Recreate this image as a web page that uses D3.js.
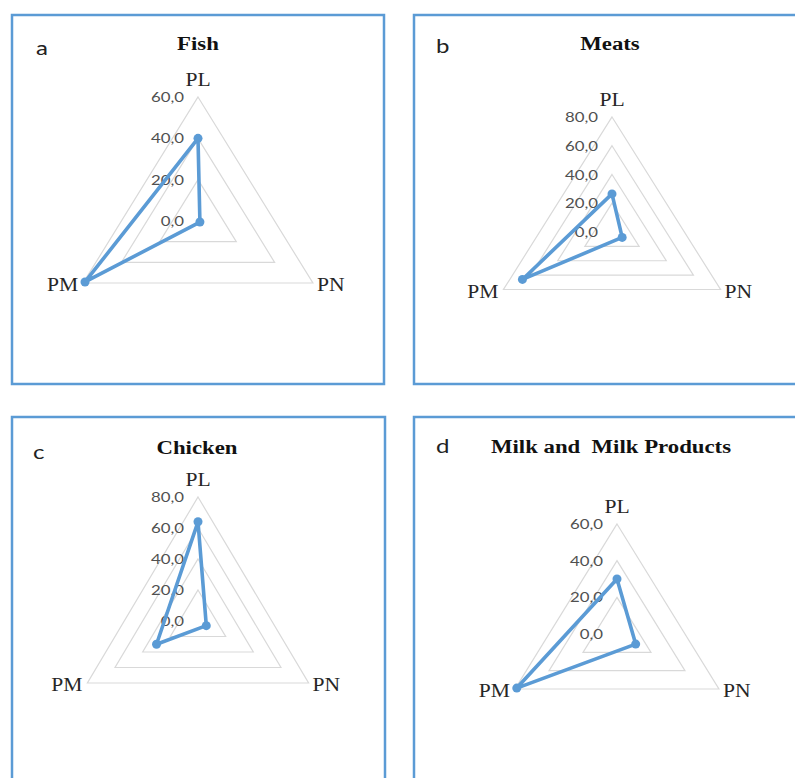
<!DOCTYPE html>
<meta charset="utf-8">
<style>
  body { margin: 0; background: #fff; }
  svg { display: block; }
  .frame { fill: none; stroke: #5b9bd5; stroke-width: 2.5; }
  .grid { fill: none; stroke: #d9d9d9; stroke-width: 1.2; }
  .series { fill: none; stroke: #5b9bd5; stroke-width: 3.6; stroke-linejoin: round; }
  .dot { fill: #5b9bd5; }
  .tick { font-family: Lato, sans-serif; font-size: 14px; fill: #505050; }
  .cat { font-family: "Liberation Serif", serif; font-size: 18px; fill: #262626; }
  .title { font-family: "Liberation Serif", serif; font-size: 19px; font-weight: bold; fill: #111; white-space: pre; }
  .letter { font-family: Lato, sans-serif; font-size: 20px; fill: #222; }
</style>
<body>
</body>
<script src="https://cdn.jsdelivr.net/npm/d3@7"></script>
<script>
  // data
  const axes = ['PL', 'PN', 'PM'];
  const titles = ['Fish', 'Meats', 'Chicken', 'Milk and  Milk Products'];
  const letters = ['a', 'b', 'c', 'd'];
  const maxes = [60, 80, 80, 60];
  const fish = [40, 1, 59];
  const meats = [26.5, 7.5, 66];
  const chicken = [64, 6, 30];
  const milk = [30, 11, 59];
  const series = [fish, meats, chicken, milk];

  // layout of each panel (frame box, radar centre, radius, horizontal stretch)
  const layout = [
    {fx: 12, fy: 15, fw: 372, fh: 369, cx: 198, cy: 221, R: 124, sx: 1.07, ty: 50, lx: 36, ly: 55},
    {fx: 414, fy: 15, fw: 400, fh: 369, cx: 612, cy: 232, R: 115, sx: 1.09, ty: 50, lx: 436, ly: 53},
    {fx: 12, fy: 417, fw: 373, fh: 400, cx: 198, cy: 621, R: 124, sx: 1.03, ty: 454, lx: 33, ly: 459},
    {fx: 414, fy: 417, fw: 400, fh: 400, cx: 617, cy: 634, R: 110, sx: 1.07, ty: 453, lx: 436, ly: 453}
  ];
  const titleX = [198, 610, 197, 611];

  const W = 795, H = 778;
  const svg = d3.select('body').append('svg').attr('width', W).attr('height', H);

  const fmt = v => d3.format('.1f')(v).replace('.', ',');
  const ang = i => (-90 + i * 120) * Math.PI / 180;
  const stretch = 1.2;  // text in the picture is drawn wide

  function wideText(g, x, y, str, cls, anchor) {
    return g.append('text')
      .attr('class', cls)
      .attr('transform', `translate(${x},${y}) scale(${stretch},1)`)
      .attr('text-anchor', anchor || 'middle')
      .text(str);
  }

  layout.forEach((p, k) => {
    const g = svg.append('g');
    const r = d3.scaleLinear().domain([0, maxes[k]]).range([0, p.R]);
    const px = (i, v) => p.cx + p.sx * r(v) * Math.cos(ang(i));
    const py = (i, v) => p.cy + r(v) * Math.sin(ang(i));

    g.append('rect').attr('class', 'frame')
      .attr('x', p.fx).attr('y', p.fy).attr('width', p.fw).attr('height', p.fh);

    const ticks = d3.range(0, maxes[k] + 1, 20);

    // grid rings
    g.selectAll('path.grid')
      .data(ticks.filter(t => t > 0))
      .join('path')
      .attr('class', 'grid')
      .attr('d', t => d3.line().curve(d3.curveLinearClosed)(axes.map((a, i) => [px(i, t), py(i, t)])));

    // tick labels
    g.selectAll('text.tick')
      .data(ticks)
      .join('text')
      .attr('class', 'tick')
      .attr('transform', t => `translate(${p.cx - 14},${p.cy - r(t) + 5}) scale(${stretch},1)`)
      .attr('text-anchor', 'end')
      .text(fmt);

    // series
    const vals = series[k];
    g.append('path').attr('class', 'series')
      .attr('d', d3.line().curve(d3.curveLinearClosed)(vals.map((v, i) => [px(i, v), py(i, v)])));
    g.selectAll('circle')
      .data(vals)
      .join('circle')
      .attr('class', 'dot')
      .attr('cx', (v, i) => px(i, v))
      .attr('cy', (v, i) => py(i, v))
      .attr('r', 4.5);

    // category labels
    const m = maxes[k];
    wideText(g, px(0, m), py(0, m) - 11, axes[0], 'cat', 'middle');
    wideText(g, px(1, m) + 4, py(1, m) + 8, axes[1], 'cat', 'start');
    wideText(g, px(2, m) - 5, py(2, m) + 8, axes[2], 'cat', 'end');

    // title and panel letter
    wideText(g, titleX[k], p.ty, titles[k], 'title', 'middle');
    wideText(g, p.lx, p.ly, letters[k], 'letter', 'start');
  });
</script>
